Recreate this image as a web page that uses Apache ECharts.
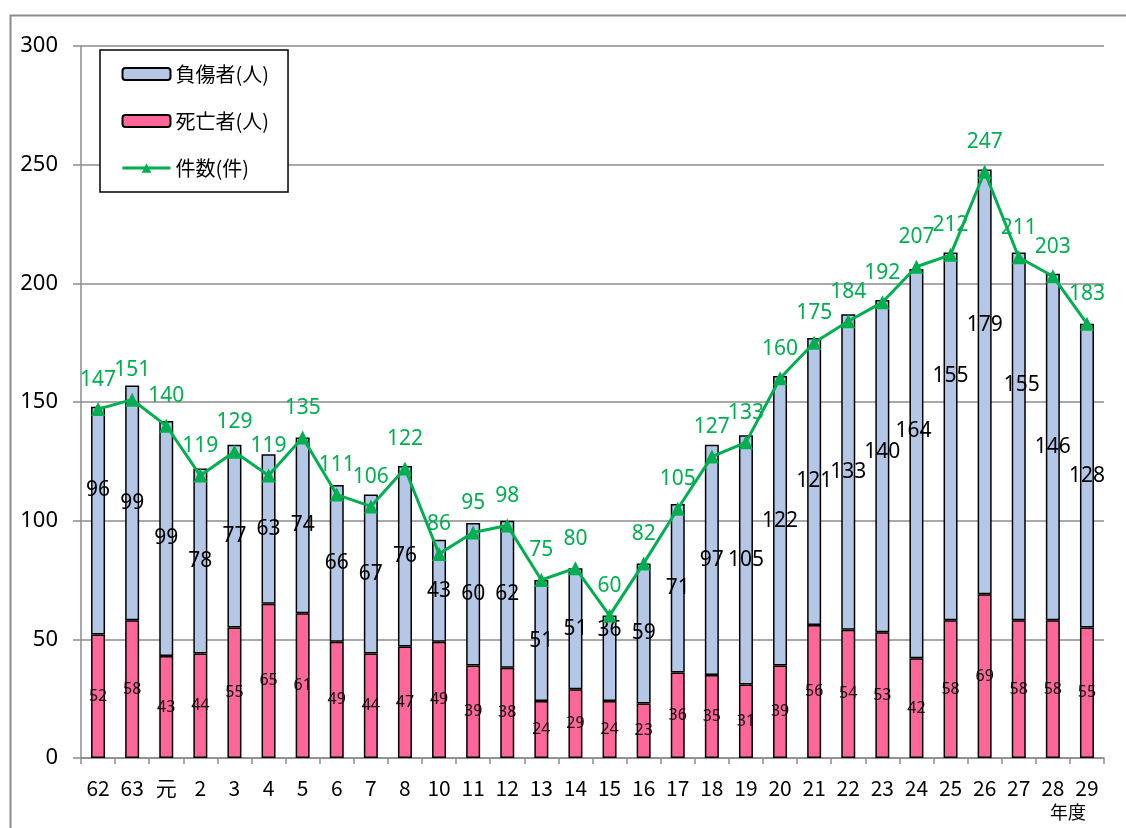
<!DOCTYPE html>
<html>
<head>
<meta charset="utf-8">
<script src="https://cdn.jsdelivr.net/npm/echarts@6/dist/echarts.min.js"></script>
<style>
  html, body { margin: 0; padding: 0; background: #fff; }
  #chart { width: 1126px; height: 828px; }
</style>
</head>
<body>
<div id="chart"></div>
<script>
const years = ['62', '63', '元', '2', '3', '4', '5', '6', '7', '8', '10', '11', '12', '13', '14',
    '15', '16', '17', '18', '19', '20', '21', '22', '23', '24', '25', '26', '27', '28', '29'];
const deaths = [52, 58, 43, 44, 55, 65, 61, 49, 44, 47, 49, 39, 38, 24, 29,
    24, 23, 36, 35, 31, 39, 56, 54, 53, 42, 58, 69, 58, 58, 55];
const injured = [96, 99, 99, 78, 77, 63, 74, 66, 67, 76, 43, 60, 62, 51, 51,
    36, 59, 71, 97, 105, 122, 121, 133, 140, 164, 155, 179, 155, 146, 128];
const cases = [147, 151, 140, 119, 129, 119, 135, 111, 106, 122, 86, 95, 98, 75, 80,
    60, 82, 105, 127, 133, 160, 175, 184, 192, 207, 212, 247, 211, 203, 183];

// a few injured labels were dragged away from the bar centre in the original
const injuredLabelShift = { 0: [0, -31], 15: [0, -28], 23: [0, -14], 24: [-3, -33],
    25: [0, -60], 26: [0, -57], 27: [3, -51] };

const numFont = "'Noto Sans', 'Noto Sans CJK JP', sans-serif";
const jpFont = "'Noto Sans CJK JP', 'Noto Sans', sans-serif";

let injuredData = injured.map((v, i) => {
    if (injuredLabelShift[i]) {
        return { value: v, label: { offset: injuredLabelShift[i] } };
    }
    return v;
});

let chartElem = document.getElementById('chart');
let chart = echarts.init(chartElem);
chart.setOption({
    animation: false,
    backgroundColor: '#fff',
    grid: {
        left: 81,
        right: 22,
        top: 46,
        bottom: 70,
        containLabel: false
    },
    legend: {
        left: 100,
        top: 50,
        orient: 'vertical',
        data: ['負傷者(人)', '死亡者(人)', {
            name: '件数(件)',
            lineStyle: { width: 3 }
        }],
        backgroundColor: '#fff',
        borderColor: '#000',
        borderWidth: 1.5,
        borderRadius: 0,
        padding: [14, 19, 14, 21],
        itemGap: 27,
        itemWidth: 48,
        itemHeight: 12,
        textStyle: {
            fontFamily: jpFont,
            fontSize: 20,
            color: '#000',
            lineHeight: 20
        }
    },
    xAxis: [{
        type: 'category',
        data: years,
        axisLine: { show: true, lineStyle: { color: '#8c8c8c', width: 1.5 } },
        axisTick: { show: true, length: 6, lineStyle: { color: '#8c8c8c', width: 1.5 } },
        axisLabel: {
            color: '#000',
            fontFamily: jpFont,
            fontSize: 21,
            margin: 20,
            interval: 0
        },
        splitLine: { show: false }
    }],
    yAxis: [{
        type: 'value',
        min: 0,
        max: 300,
        interval: 50,
        axisLine: { show: true, lineStyle: { color: '#8c8c8c', width: 1.5 } },
        axisTick: { show: true, length: 8, lineStyle: { color: '#8c8c8c', width: 1.5 } },
        axisLabel: {
            color: '#000',
            fontFamily: numFont,
            fontSize: 22,
            margin: 23
        },
        splitLine: { show: true, lineStyle: { color: '#8c8c8c', width: 1.5 } }
    }],
    series: [{
        name: '死亡者(人)',
        type: 'bar',
        stack: 'people',
        data: deaths,
        barWidth: 14,
        itemStyle: {
            color: '#ff6699',
            borderColor: '#000',
            borderWidth: 1.5
        },
        label: {
            show: true,
            position: 'inside',
            color: '#111',
            fontFamily: numFont,
            fontSize: 16
        }
    }, {
        name: '負傷者(人)',
        type: 'bar',
        stack: 'people',
        data: injuredData,
        barWidth: 14,
        itemStyle: {
            color: '#b4c7e7',
            borderColor: '#000',
            borderWidth: 1.5
        },
        label: {
            show: true,
            position: 'inside',
            color: '#000',
            fontFamily: numFont,
            fontSize: 21
        }
    }, {
        name: '件数(件)',
        type: 'line',
        data: cases,
        symbol: 'triangle',
        symbolSize: 14,
        lineStyle: { color: '#00b050', width: 3 },
        itemStyle: { color: '#00b050' },
        label: {
            show: true,
            position: 'top',
            distance: 12,
            color: '#00b050',
            fontFamily: numFont,
            fontSize: 21
        },
        z: 5
    }],
    graphic: [{
        type: 'rect',
        left: 8,
        top: 13,
        shape: { width: 1140, height: 840 },
        style: { fill: 'none', stroke: '#8c8c8c', lineWidth: 2 },
        silent: true,
        z: -1
    }, {
        type: 'text',
        left: 1050,
        top: 803,
        style: {
            text: '年度',
            fontFamily: jpFont,
            fontSize: 18,
            fill: '#000'
        }
    }]
});
</script>
</body>
</html>
